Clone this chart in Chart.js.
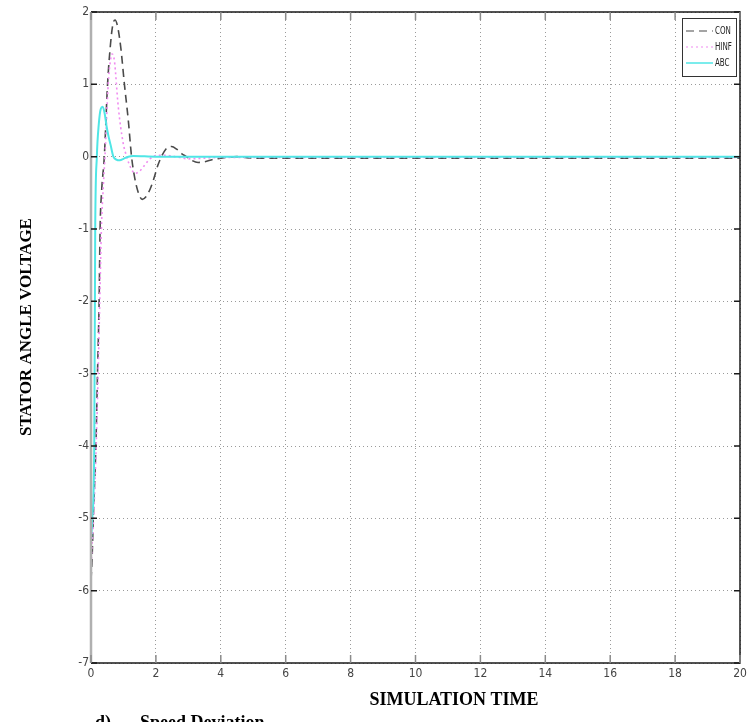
<!DOCTYPE html>
<html>
<head>
<meta charset="utf-8">
<script src="https://cdn.jsdelivr.net/npm/chart.js@4/dist/chart.umd.min.js"></script>
<style>
  html, body { margin: 0; padding: 0; background: #ffffff; }
  #wrap { width: 755px; height: 722px; position: relative; }
</style>
</head>
<body>
<div id="wrap"><canvas id="chart" width="755" height="722"></canvas></div>
<script>
// Step responses of the three controllers (time in s)
const conTime = [0, 0.03, 0.07, 0.15, 0.2, 0.25, 0.28, 0.33, 0.41, 0.51, 0.6, 0.67, 0.74, 0.82, 0.92, 1.03, 1.15, 1.25, 1.35, 1.46, 1.58, 1.7, 1.82, 1.94, 2.06, 2.17, 2.3, 2.48, 2.65, 2.8, 2.94, 3.1, 3.3, 3.5, 3.75, 4.0, 4.5, 5.0, 20];
const conValues = [-5.85, -5.6, -5.0, -4.0, -3.0, -2.0, -1.0, -0.46, 0, 1.0, 1.55, 1.82, 1.89, 1.8, 1.5, 1.0, 0.5, 0.0, -0.3, -0.5, -0.59, -0.55, -0.45, -0.3, -0.12, 0, 0.1, 0.14, 0.1, 0.04, 0, -0.05, -0.08, -0.07, -0.04, -0.02, 0, -0.02, -0.02];

const hinfTime = [0, 0.03, 0.08, 0.16, 0.22, 0.27, 0.32, 0.38, 0.43, 0.53, 0.59, 0.65, 0.72, 0.84, 0.99, 1.1, 1.22, 1.36, 1.5, 1.65, 1.77, 1.92, 2.07, 2.3, 2.6, 3.0, 3.5, 4.0, 20];
const hinfValues = [-5.7, -5.4, -5.0, -4.0, -3.0, -2.0, -1.0, -0.4, 0, 1.0, 1.3, 1.42, 1.33, 0.69, 0.19, 0, -0.15, -0.23, -0.2, -0.12, -0.05, 0, 0.02, 0.02, 0, -0.03, -0.02, -0.01, -0.01];

const abcTime = [0, 0.04, 0.1, 0.13, 0.18, 0.24, 0.3, 0.36, 0.42, 0.48, 0.54, 0.6, 0.69, 0.78, 0.89, 1.0, 1.15, 1.3, 2.0, 20];
const abcValues = [-5.3, -5.0, -4.0, -1.0, 0, 0.45, 0.66, 0.69, 0.6, 0.42, 0.28, 0.17, 0, -0.04, -0.05, -0.03, 0, 0.01, 0, 0];

const xTicks = [0, 2, 4, 6, 8, 10, 12, 14, 16, 18, 20];
const yTicks = [2, 1, 0, -1, -2, -3, -4, -5, -6, -7];

const seriesNames = ['CON', 'HINF', 'ABC'];
const seriesColors = ['#4a4a4a', '#f08cf0', '#4fe6e6'];
const seriesDash = [[8, 5], [2, 3], []];

const tickFont = { family: '"DejaVu Sans Condensed", "Liberation Sans Narrow", sans-serif', size: 12 };

function toPoints(xs, ys) {
    return xs.map((x, i) => ({ x, y: ys[i] }));
}

// frame, inside ticks, legend box and text labels
const framePlugin = {
    id: 'frame',
    afterDraw(chart) {
        const { ctx, chartArea: a, scales } = chart;
        ctx.save();

        // left axis (soft grey band)
        ctx.strokeStyle = '#b0b0b0';
        ctx.lineWidth = 2.5;
        ctx.beginPath();
        ctx.moveTo(a.left, a.top);
        ctx.lineTo(a.left, a.bottom);
        ctx.stroke();

        ctx.strokeStyle = '#1a1a1a';
        ctx.lineWidth = 1.5;
        ctx.beginPath();
        ctx.moveTo(a.left, a.top);
        ctx.lineTo(a.right, a.top);
        ctx.lineTo(a.right, a.bottom);
        ctx.lineTo(a.left, a.bottom);
        ctx.stroke();

        // y ticks, left and right
        ctx.lineWidth = 1.5;
        yTicks.forEach(v => {
            const y = scales.y.getPixelForValue(v);
            ctx.beginPath();
            ctx.moveTo(a.left, y);
            ctx.lineTo(a.left + 6, y);
            ctx.moveTo(a.right, y);
            ctx.lineTo(a.right - 6, y);
            ctx.stroke();
        });

        // x ticks, top and bottom
        ctx.strokeStyle = '#8a8a8a';
        xTicks.forEach(v => {
            const x = scales.x.getPixelForValue(v);
            ctx.beginPath();
            ctx.moveTo(x, a.bottom);
            ctx.lineTo(x, a.bottom - 8);
            ctx.moveTo(x, a.top);
            ctx.lineTo(x, a.top + 8);
            ctx.stroke();
        });

        // legend
        const bx = a.right - 58, by = a.top + 6, bw = 54, bh = 58;
        ctx.fillStyle = '#ffffff';
        ctx.fillRect(bx, by, bw, bh);
        ctx.strokeStyle = '#333333';
        ctx.lineWidth = 1;
        ctx.strokeRect(bx + 0.5, by + 0.5, bw, bh);
        ctx.textBaseline = 'middle';
        seriesNames.forEach((name, i) => {
            const ly = by + 13 + i * 16;
            ctx.strokeStyle = seriesColors[i];
            ctx.lineWidth = i === 2 ? 1.5 : 1.2;
            ctx.setLineDash(seriesDash[i]);
            ctx.beginPath();
            ctx.moveTo(bx + 4, ly);
            ctx.lineTo(bx + 31, ly);
            ctx.stroke();
            ctx.setLineDash([]);
            // narrow lettering, squeezed horizontally
            ctx.save();
            ctx.translate(bx + 33, ly);
            ctx.scale(0.72, 1);
            ctx.font = '11px "DejaVu Sans Condensed", sans-serif';
            ctx.fillStyle = '#222222';
            ctx.fillText(name, 0, 0);
            ctx.restore();
        });

        // axis titles and caption
        ctx.fillStyle = '#000000';
        ctx.textAlign = 'center';
        ctx.textBaseline = 'middle';
        ctx.font = 'bold 18px "Liberation Serif", serif';
        ctx.fillText('SIMULATION TIME', 454, 700);

        ctx.save();
        ctx.translate(27, 327);
        ctx.rotate(-Math.PI / 2);
        ctx.font = 'bold 17px "Liberation Serif", serif';
        ctx.fillText('STATOR ANGLE VOLTAGE', 0, 0);
        ctx.restore();

        ctx.textAlign = 'left';
        ctx.textBaseline = 'alphabetic';
        ctx.font = 'bold 18px "Liberation Serif", serif';
        ctx.fillText('d)', 95, 728);
        ctx.fillText('Speed Deviation', 140, 728);

        ctx.restore();
    }
};

const datasets = [
    { data: toPoints(conTime, conValues), order: 3 },
    { data: toPoints(hinfTime, hinfValues), order: 2 },
    { data: toPoints(abcTime, abcValues), order: 1 }
].map((d, i) => Object.assign(d, {
    label: seriesNames[i],
    borderColor: seriesColors[i],
    borderWidth: i === 2 ? 2 : 1.6,
    borderDash: seriesDash[i],
    pointRadius: 0,
    fill: false,
    cubicInterpolationMode: 'monotone'
}));

const gridStyle = {
    color: '#9a9a9a',
    lineWidth: 1,
    drawTicks: false
};

new Chart(document.getElementById('chart'), {
    type: 'line',
    data: { datasets },
    options: {
        responsive: false,
        animation: false,
        events: [],
        layout: { padding: { left: 0, top: 12, right: 15, bottom: 0 } },
        plugins: {
            legend: { display: false },
            tooltip: { enabled: false }
        },
        scales: {
            x: {
                type: 'linear',
                min: 0,
                max: 20,
                afterBuildTicks(scale) {
                    scale.ticks = xTicks.map(v => ({ value: v }));
                },
                afterFit(scale) { scale.height = 59; },
                grid: gridStyle,
                border: { display: false, dash: [1, 3] },
                ticks: { color: '#444444', font: tickFont, padding: 4, maxRotation: 0 }
            },
            y: {
                type: 'linear',
                min: -7,
                max: 2,
                afterBuildTicks(scale) {
                    scale.ticks = yTicks.map(v => ({ value: v }));
                },
                afterFit(scale) { scale.width = 91; },
                grid: gridStyle,
                border: { display: false, dash: [1, 3] },
                ticks: { color: '#444444', font: tickFont, padding: 2 }
            }
        }
    },
    plugins: [framePlugin]
});
</script>
</body>
</html>
